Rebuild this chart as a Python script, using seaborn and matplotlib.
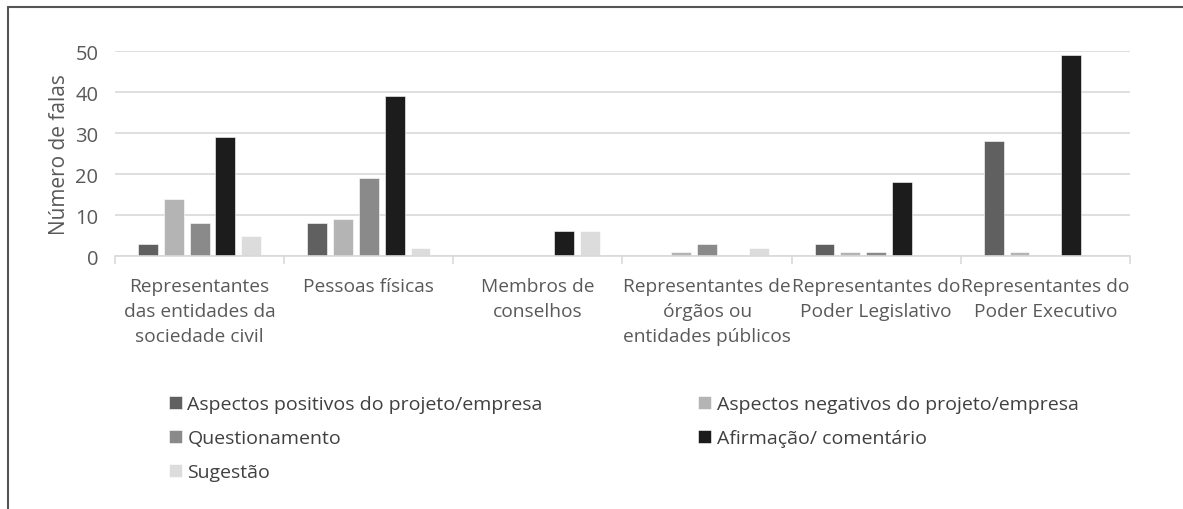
import matplotlib
matplotlib.use('Agg')
import matplotlib.pyplot as plt
import numpy as np
import pandas as pd
import seaborn as sns

categorias = ['Representantes\ndas entidades da\nsociedade civil',
              'Pessoas físicas',
              'Membros de\nconselhos',
              'Representantes de\nórgãos ou\nentidades públicos',
              'Representantes do\nPoder Legislativo',
              'Representantes do\nPoder Executivo']
tipos = ['Aspectos positivos do projeto/empresa',
         'Aspectos negativos do projeto/empresa',
         'Questionamento',
         'Afirmação/ comentário',
         'Sugestão']
positivos = [3, 8, 0, 0, 3, 28]
negativos = [14, 9, 0, 1, 1, 1]
questionamento = [8, 19, 0, 3, 1, 0]
afirmacao = [29, 39, 6, 0, 18, 49]
sugestao = [5, 2, 6, 2, 0, 0]
cores = ['#606060', '#b4b4b4', '#8a8a8a', '#1c1c1c', '#dcdcdc']

sns.set_theme(style='white')
plt.rcParams['font.family'] = ['Open Sans', 'DejaVu Sans']

linhas = []
for tipo, valores in zip(tipos, [positivos, negativos, questionamento, afirmacao, sugestao]):
    for cat, v in zip(categorias, valores):
        linhas.append({'categoria': cat, 'tipo': tipo, 'falas': v})
df = pd.DataFrame(linhas)

fig = plt.figure(figsize=(11.83, 5.10), dpi=100)
ax = fig.add_axes([0.0972, 0.496, 0.858, 0.402])
sns.barplot(data=df, x='categoria', y='falas', hue='tipo', hue_order=tipos,
            palette=cores, width=0.765, gap=0.23, ax=ax, legend=True,
            edgecolor='white', linewidth=0.4)

ax.set_ylim(0, 50)
ax.set_yticks(np.arange(0, 51, 10))
ax.set_xlim(-0.5, len(categorias) - 0.5)
ax.yaxis.grid(True, color='#d9d9d9', linewidth=1.2)
ax.set_axisbelow(True)
for s in ['left', 'right', 'top']:
    ax.spines[s].set_visible(False)
ax.spines['bottom'].set_color('#d9d9d9')
ax.spines['bottom'].set_linewidth(1.2)

ax.set_xticks(np.arange(len(categorias)))
ax.set_xticklabels(categorias, fontsize=13.8, color='#595959', linespacing=1.5, va='top')
ax.set_xticks(np.arange(-0.5, len(categorias), 1), minor=True)
ax.tick_params(axis='x', which='major', length=0, pad=15)
ax.tick_params(axis='x', which='minor', length=6, color='#d9d9d9', width=1.2, direction='out', bottom=True)
ax.tick_params(axis='y', length=0, labelsize=14.5, labelcolor='#595959', pad=12)
ax.set_xlabel('')
ax.set_ylabel('Número de falas', fontsize=15, color='#595959', labelpad=4)

handles, labels = ax.get_legend_handles_labels()
ax.get_legend().remove()
ordem = [0, 2, 4, 1, 3]
fig.legend([handles[i] for i in ordem], [labels[i] for i in ordem],
           loc='upper left', bbox_to_anchor=(0.128, 0.258),
           ncol=2, frameon=False, fontsize=14, labelcolor='#404040',
           handlelength=0.65, handleheight=0.65, handletextpad=0.3,
           columnspacing=8.0, labelspacing=0.83)

fig.add_artist(plt.Line2D([0.0068, 1], [0.984, 0.984], transform=fig.transFigure, color='#555555', lw=1.5))
fig.add_artist(plt.Line2D([0.0068, 0.0068], [0, 0.984], transform=fig.transFigure, color='#555555', lw=1.5))

fig.savefig('out.png', dpi=100, facecolor='white')
